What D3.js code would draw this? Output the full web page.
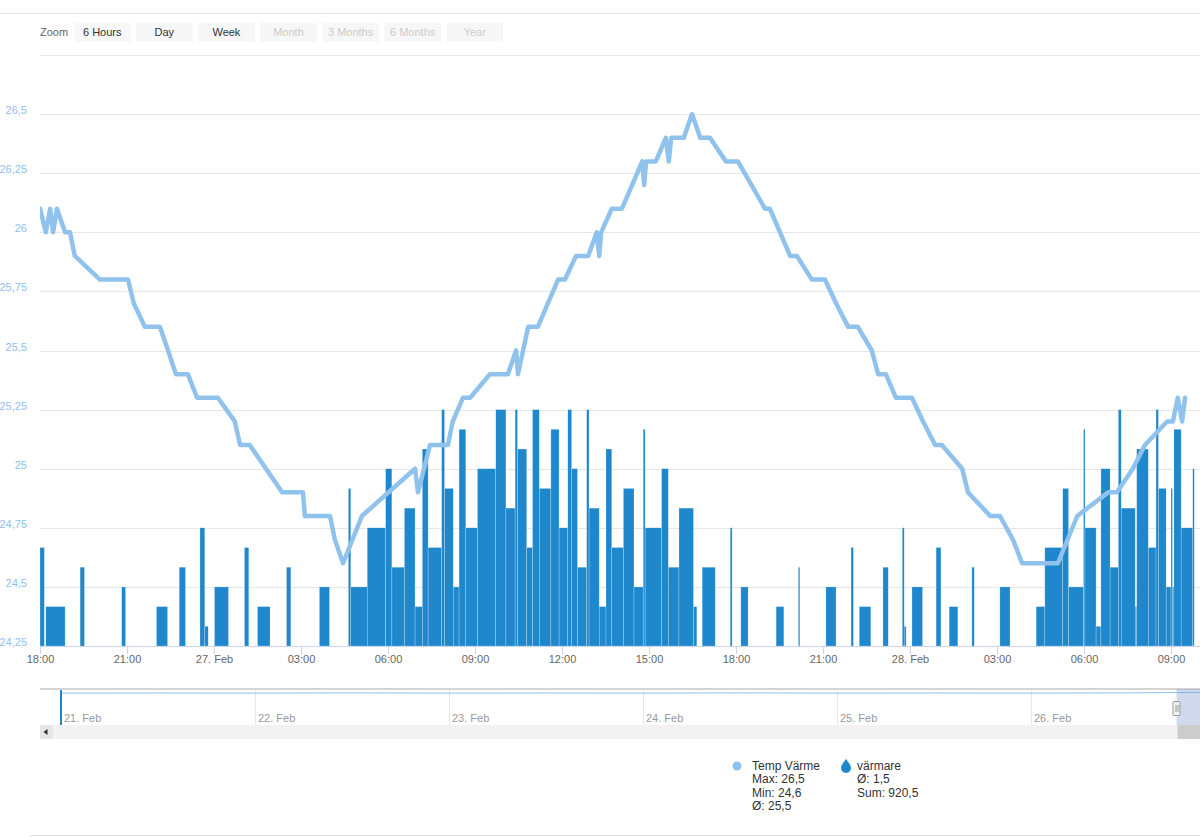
<!DOCTYPE html>
<html>
<head>
<meta charset="utf-8">
<script src="https://cdn.jsdelivr.net/npm/d3@7"></script>
<style>
  body { margin: 0; background: #fff; }
  svg { display: block; font-family: "Liberation Sans", Arial, sans-serif; }
</style>
</head>
<body>
<svg width="1200" height="837"></svg>
<script>
// Temperature series (Temp Värme)
var tempTimes = ["26 18:00","26 18:12","26 18:21","26 18:27","26 18:35","26 18:52","26 19:02","26 19:12","26 20:04","26 21:02",
  "26 21:14","26 21:37","26 22:08","26 22:25","26 22:41","26 23:06","26 23:25","27 00:08","27 00:43","27 00:54",
  "27 01:14","27 02:21","27 03:04","27 03:08","27 04:00","27 04:10","27 04:27","27 05:06","27 06:56","27 07:02",
  "27 07:27","27 08:04","27 08:14","27 08:35","27 08:50","27 09:31","27 10:08","27 10:25","27 10:29","27 10:50",
  "27 11:10","27 11:31","27 11:52","27 12:06","27 12:29","27 12:54","27 13:12","27 13:17","27 13:21","27 13:43",
  "27 14:04","27 14:25","27 14:46","27 14:50","27 14:54","27 15:14","27 15:35","27 15:41","27 15:46","27 16:12",
  "27 16:29","27 16:46","27 17:06","27 17:39","27 18:04","27 19:00","27 19:10","27 19:52","27 20:06","27 20:37",
  "27 21:04","27 21:27","27 21:52","27 22:12","27 22:41","27 22:54","27 23:10","27 23:31","28 00:04","28 00:27",
  "28 00:52","28 01:06","28 01:48","28 02:00","28 02:46","28 03:06","28 03:33","28 03:52","28 05:06","28 05:46",
  "28 06:50","28 07:08","28 07:41","28 08:06","28 08:52","28 09:04","28 09:14","28 09:23","28 09:29"];
var tempValues = [26.1,26.0,26.1,26.0,26.1,26.0,26.0,25.9,25.8,25.8,
  25.7,25.6,25.6,25.5,25.4,25.4,25.3,25.3,25.2,25.1,
  25.1,24.9,24.9,24.8,24.8,24.7,24.6,24.8,25.0,24.9,
  25.1,25.1,25.2,25.3,25.3,25.4,25.4,25.5,25.4,25.6,
  25.6,25.7,25.8,25.8,25.9,25.9,26.0,25.9,26.0,26.1,
  26.1,26.2,26.3,26.2,26.3,26.3,26.4,26.3,26.4,26.4,
  26.5,26.4,26.4,26.3,26.3,26.1,26.1,25.9,25.9,25.8,
  25.8,25.7,25.6,25.6,25.5,25.4,25.4,25.3,25.3,25.2,
  25.1,25.1,25.0,24.9,24.8,24.8,24.7,24.6,24.6,24.8,
  24.9,24.9,25.0,25.1,25.2,25.2,25.3,25.2,25.3];

// Heater series (värmare): start, end, value
var barStart = ["26 18:00","26 18:12","26 19:23","26 20:49","26 22:01","26 22:48","26 23:31","26 23:41","27 00:01","27 01:03",
  "27 01:30","27 02:30","27 03:38","27 04:38","27 04:43","27 05:17","27 05:55","27 06:08","27 06:34","27 06:56",
  "27 07:11","27 07:23","27 07:51","27 07:57","27 08:15","27 08:27","27 08:41","27 09:05","27 09:43","27 10:04",
  "27 10:23","27 10:28","27 10:47","27 10:59","27 11:13","27 11:37","27 11:54","27 12:12","27 12:20","27 12:32",
  "27 12:51","27 12:56","27 13:17","27 13:31","27 13:43","27 14:07","27 14:29","27 14:48","27 14:52","27 15:26",
  "27 15:40","27 16:02","27 16:32","27 16:50","27 17:48","27 18:10","27 19:23","27 20:09","27 21:06","27 21:58",
  "27 22:15","27 23:04","27 23:44","27 23:48","28 00:04","28 00:54","28 01:21","28 02:08","28 03:06","28 04:21",
  "28 04:39","28 05:16","28 05:28","28 05:59","28 06:02","28 06:25","28 06:35","28 06:54","28 07:11","28 07:17",
  "28 07:46","28 07:49","28 08:13","28 08:29","28 08:34","28 08:50","28 09:00","28 09:03","28 09:06","28 09:21",
  "28 09:45"];
var barEnd = ["26 18:09","26 18:52","26 19:32","26 20:57","26 22:24","26 23:01","26 23:41","26 23:48","27 00:30","27 01:12",
  "27 01:56","27 02:39","27 03:59","27 04:43","27 05:17","27 05:55","27 06:08","27 06:34","27 06:56","27 07:11",
  "27 07:23","27 07:51","27 07:57","27 08:15","27 08:27","27 08:41","27 09:05","27 09:43","27 10:04","27 10:23",
  "27 10:28","27 10:47","27 10:59","27 11:13","27 11:37","27 11:54","27 12:12","27 12:20","27 12:32","27 12:51",
  "27 12:56","27 13:17","27 13:31","27 13:43","27 14:07","27 14:29","27 14:48","27 14:52","27 15:26","27 15:40",
  "27 16:02","27 16:32","27 16:39","27 17:17","27 17:52","27 18:25","27 19:39","27 20:12","27 21:27","27 22:03",
  "27 22:39","27 23:15","27 23:48","27 23:52","28 00:26","28 01:04","28 01:39","28 02:13","28 03:27","28 04:39",
  "28 05:16","28 05:28","28 05:59","28 06:02","28 06:25","28 06:35","28 06:54","28 07:11","28 07:17","28 07:46",
  "28 07:49","28 08:13","28 08:29","28 08:34","28 08:50","28 09:00","28 09:03","28 09:06","28 09:21","28 09:45",
  "28 09:48"];
var barValues = [2.5,1,2,1.5,1,2,3,0.5,1.5,2.5,
  1,2,1.5,4,1.5,3,4.5,2,3.5,1,
  5,2.5,6,4,1.5,5.5,3,4.5,6,3.5,
  6,5,2.5,6,4,5.5,3,6,4.5,2,
  6,3.5,1,5,2.5,4,1.5,5.5,3,4.5,
  2,3.5,1,2,3,1.5,1,2,1.5,2.5,
  1,2,3,0.5,1.5,2.5,1,2,1.5,1,
  2.5,4,1.5,5.5,3,0.5,4.5,2,6,3.5,
  1,5,2.5,6,4,1.5,4,1.5,5.5,3,
  4.5];

// Axis ticks
var yTicks = [24.25,24.5,24.75,25,25.25,25.5,25.75,26,26.25,26.5];
var zoomButtons = ["6 Hours","Day","Week","Month","3 Months","6 Months","Year"];
var zoomEnabled = [true,true,true,false,false,false,false];

// Navigator (overview) series
var navTimes = ["21 00:00","21 12:00","22 00:00","22 12:00","23 00:00","23 12:00","24 00:00","24 12:00",
  "25 00:00","25 12:00","26 00:00","26 12:00","26 18:00","27 00:00"];
var navValues = [25.6,25.7,25.6,25.8,25.6,25.7,25.6,25.8,25.6,25.7,25.6,25.8,26.1,26.4];
var navDays = ["21","22","23","24","25","26"];

// Legend text
var legendTemp = ["Temp Värme","Max: 26,5","Min: 24,6","Ø: 25,5"];
var legendHeat = ["värmare","Ø: 1,5","Sum: 920,5"];

var parseT = function(s) { return d3.timeParse("%Y-%m-%d %H:%M")("2018-02-" + s); };

var svg = d3.select("svg");
var plotLeft = 40, plotRight = 1200, plotTop = 55, plotBottom = 646;

var x = d3.scaleTime()
    .domain([parseT("26 18:00"), parseT("28 10:00")])
    .range([plotLeft, plotRight]);
var y = d3.scaleLinear().domain([24.25, 26.75]).range([plotBottom, plotTop]);
var yBar = d3.scaleLinear().domain([0, 6]).range([plotBottom, y(25.25)]);

// page top rule
svg.append("line").attr("x1", 0).attr("x2", 1200).attr("y1", 13.5).attr("y2", 13.5)
    .attr("stroke", "#e6e6e6");

// zoom buttons
svg.append("text").attr("x", 40).attr("y", 36).attr("font-size", 11).attr("fill", "#666").text("Zoom");
var bx = d3.scaleBand().domain(zoomButtons).range([74, 503]).paddingInner(0.09);
var btn = svg.selectAll(".btn").data(zoomButtons).enter().append("g").attr("class", "btn");
btn.append("rect")
    .attr("x", d => bx(d)).attr("y", 23).attr("width", bx.bandwidth()).attr("height", 19)
    .attr("fill", "#f7f7f7");
btn.append("text")
    .attr("x", d => bx(d) + bx.bandwidth() / 2).attr("y", 36)
    .attr("text-anchor", "middle").attr("font-size", 11)
    .attr("fill", (d, i) => zoomEnabled[i] ? "#333" : "#cccccc")
    .text(d => d);

// grid lines
svg.append("g").selectAll("line").data(yTicks.concat([26.75])).enter().append("line")
    .attr("x1", plotLeft).attr("x2", plotRight)
    .attr("y1", d => Math.round(y(d)) + 0.5).attr("y2", d => Math.round(y(d)) + 0.5)
    .attr("stroke", "#e6e6e6");

// y labels
svg.append("g").selectAll("text").data(yTicks).enter().append("text")
    .attr("x", 27).attr("y", d => y(d))
    .attr("text-anchor", "end").attr("font-size", 11).attr("fill", "#90c0ee")
    .text(d => String(d).replace(".", ","));

// clip
svg.append("clipPath").attr("id", "plot").append("rect")
    .attr("x", plotLeft).attr("y", plotTop - 5).attr("width", plotRight - plotLeft)
    .attr("height", plotBottom - plotTop + 5);

var plot = svg.append("g").attr("clip-path", "url(#plot)");

// bars
var bars = barStart.map(function(s, i) {
  return { s: parseT(s), e: parseT(barEnd[i]), v: barValues[i] };
});
plot.selectAll(".bar").data(bars).enter().append("rect")
    .attr("class", "bar")
    .attr("x", d => x(d.s))
    .attr("width", d => Math.max(1.5, x(d.e) - x(d.s)))
    .attr("y", d => yBar(d.v))
    .attr("height", d => plotBottom - yBar(d.v))
    .attr("fill", "#1f88cd")
    .attr("stroke", "#ffffff").attr("stroke-width", 0.5).attr("stroke-opacity", 0.45);

// temperature line
var temp = tempTimes.map(function(t, i) { return { t: parseT(t), v: tempValues[i] }; });
plot.append("path")
    .datum(temp)
    .attr("fill", "none")
    .attr("stroke", "#90c2ee")
    .attr("stroke-width", 4.5)
    .attr("stroke-linejoin", "round")
    .attr("stroke-linecap", "round")
    .attr("d", d3.line().x(d => x(d.t)).y(d => y(d.v)));

// x axis
var xTicks = d3.timeHour.every(3).range(parseT("26 18:00"), parseT("28 10:00"));
svg.append("line").attr("x1", plotLeft).attr("x2", plotRight)
    .attr("y1", plotBottom + 0.5).attr("y2", plotBottom + 0.5)
    .attr("stroke", "#ccd6eb");
var xt = svg.append("g").selectAll("g").data(xTicks).enter().append("g")
    .attr("transform", d => "translate(" + (Math.round(x(d)) + 0.5) + ",0)");
xt.append("line").attr("y1", plotBottom).attr("y2", plotBottom + 8).attr("stroke", "#ccd6eb");
xt.append("text").attr("y", plotBottom + 17).attr("text-anchor", "middle")
    .attr("font-size", 11).attr("fill", "#666")
    .text(d => d.getHours() === 0 ? d3.timeFormat("%-d. %b")(d) : d3.timeFormat("%H:%M")(d));

// navigator
var navTop = 689, navBottom = 725;
var nx = d3.scaleTime().domain([parseT("21 00:00"), parseT("27 00:00")]).range([61, 1225]);
var ny = d3.scaleLinear().domain([0, 26.5]).range([navBottom, navTop + 3]);
var nav = svg.append("g");
nav.selectAll(".ng").data(navDays).enter().append("line")
    .attr("x1", d => Math.round(nx(parseT(d + " 00:00"))) + 0.5)
    .attr("x2", d => Math.round(nx(parseT(d + " 00:00"))) + 0.5)
    .attr("y1", navTop).attr("y2", navBottom).attr("stroke", "#e6e6e6");
nav.selectAll(".nl").data(navDays).enter().append("text")
    .attr("x", d => nx(parseT(d + " 00:00")) + 3).attr("y", 722)
    .attr("font-size", 11).attr("fill", "#999")
    .text(d => d3.timeFormat("%-d. %b")(parseT(d + " 00:00")));
nav.append("path")
    .datum(navTimes.map((t, i) => ({ t: parseT(t), v: navValues[i] })))
    .attr("fill", "none").attr("stroke", "#90c2ee").attr("stroke-width", 1)
    .attr("d", d3.line().x(d => nx(d.t)).y(d => ny(d.v)));
nav.append("line").attr("x1", nx(parseT("21 00:00"))).attr("x2", nx(parseT("21 00:00")))
    .attr("y1", navTop + 1).attr("y2", navBottom).attr("stroke", "#1f88cd").attr("stroke-width", 2);
nav.append("line").attr("x1", plotLeft).attr("x2", plotRight).attr("y1", navTop).attr("y2", navTop)
    .attr("stroke", "#d5d5d5").attr("stroke-width", 2);
// selected window mask
var hx = nx(parseT("26 18:00"));
nav.append("rect").attr("x", hx).attr("y", navTop).attr("width", 40)
    .attr("height", navBottom - navTop).attr("fill", "rgba(102,133,194,0.3)");
nav.append("rect").attr("x", hx - 3.5).attr("y", 701.5).attr("width", 7).attr("height", 14)
    .attr("fill", "#f2f2f2").attr("stroke", "#999").attr("rx", 1);
nav.append("line").attr("x1", hx - 0.5).attr("x2", hx - 0.5).attr("y1", 705).attr("y2", 712).attr("stroke", "#999");
nav.append("line").attr("x1", hx + 1.5).attr("x2", hx + 1.5).attr("y1", 705).attr("y2", 712).attr("stroke", "#999");

// scrollbar
nav.append("rect").attr("x", plotLeft).attr("y", navBottom).attr("width", plotRight - plotLeft).attr("height", 14)
    .attr("fill", "#f2f2f2");
nav.append("rect").attr("x", plotLeft).attr("y", navBottom).attr("width", 13).attr("height", 14)
    .attr("fill", "#e6e6e6");
nav.append("path").attr("d", "M43.5,732 L47.5,729 L47.5,735 Z").attr("fill", "#333");
nav.append("rect").attr("x", hx + 1).attr("y", navBottom).attr("width", 40).attr("height", 14)
    .attr("fill", "#cccccc");

// legend
var lg = svg.append("g").attr("font-size", 12).attr("fill", "#333");
lg.append("circle").attr("cx", 737).attr("cy", 766).attr("r", 4.5).attr("fill", "#90c2ee");
lg.selectAll(".lt").data(legendTemp).enter().append("text")
    .attr("x", 752).attr("y", (d, i) => 770 + i * 13.3).text(d => d);
lg.append("path").attr("d", "M846,759 C848,762 851,765 851,768 A5,5 0 0 1 841,768 C841,765 844,762 846,759 Z")
    .attr("fill", "#1f88cd");
lg.selectAll(".lh").data(legendHeat).enter().append("text")
    .attr("x", 857).attr("y", (d, i) => 770 + i * 13.3).text(d => d);

// bottom rule
svg.append("line").attr("x1", 30).attr("x2", 1200).attr("y1", 835.5).attr("y2", 835.5).attr("stroke", "#e0e0e0");
</script>
</body>
</html>
